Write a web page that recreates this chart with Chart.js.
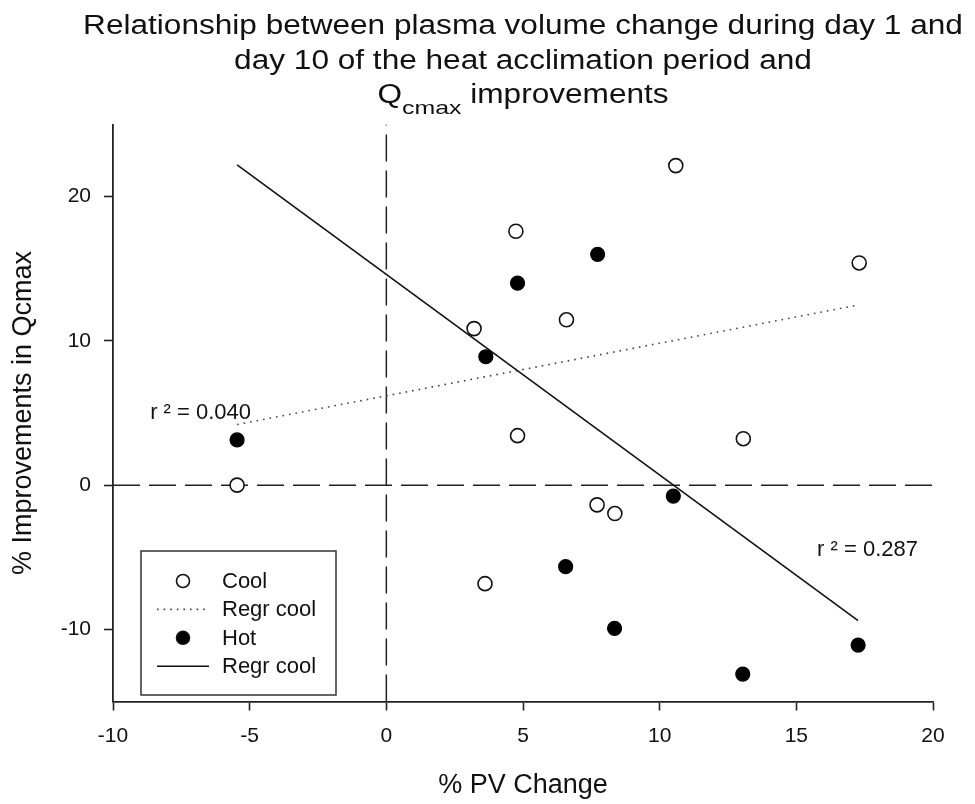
<!DOCTYPE html>
<html>
<head>
<meta charset="utf-8">
<script src="https://cdn.jsdelivr.net/npm/chart.js@4.4.0/dist/chart.umd.min.js"></script>
<style>
  html, body { margin: 0; padding: 0; background: #fff; }
  canvas { display: block; }
</style>
</head>
<body>
<canvas id="chart" width="975" height="804"></canvas>
<script>
// % PV change (x) vs % improvement in Qcmax (y)
const coolX = [10.59, 4.74, 17.30, 3.21, 6.59, 4.80, 13.06, -5.46, 7.71, 8.36, 3.61];
const coolY = [22.15, 17.6, 15.4, 10.85, 11.46, 3.43, 3.22, 0, -1.37, -1.97, -6.83];
const hotX = [7.73, 4.80, 3.64, -5.46, 10.50, 6.56, 8.35, 17.26, 13.04];
const hotY = [16.0, 14.0, 8.9, 3.13, -0.76, -5.65, -9.93, -11.09, -13.1];

// regression line end points
const coolFitX = [-5.46, 17.30];
const coolFitY = [4.2, 12.5];
const hotFitX = [-5.46, 17.26];
const hotFitY = [22.2, -9.4];

const xRange = [-10, 20];
const yRange = [-15, 25];
const xTicks = [-10, -5, 0, 5, 10, 15, 20];
const yTicks = [-10, 0, 10, 20];

const titleLines = [
  'Relationship between plasma volume change during day 1 and',
  'day 10 of the heat acclimation period and'
];
const titleLast = ['Q', 'cmax', ' improvements'];

const legendLabels = ['Cool', 'Regr cool', 'Hot', 'Regr cool'];

const rLabels = ['r \u00b2 = 0.040', 'r \u00b2 = 0.287'];
const rLabelX = [-8.64, 15.76];
const rLabelY = [5.0, -4.5];

const FONT = '"Liberation Sans", Arial, Helvetica, sans-serif';
const INK = '#111';

const pts = (xs, ys) => xs.map((x, i) => ({ x: x, y: ys[i] }));

const titlePlugin = {
  id: 'pageTitle',
  afterDraw(chart) {
    const { ctx, chartArea } = chart;
    const cx = (chartArea.left + chartArea.right) / 2;
    const stretch = 1.17;
    const main = '27px ' + FONT;
    const sub = '19px ' + FONT;
    ctx.save();
    ctx.fillStyle = INK;
    ctx.textBaseline = 'alphabetic';
    ctx.font = main;
    ctx.textAlign = 'center';
    titleLines.forEach((t, i) => {
      ctx.save();
      ctx.translate(cx, 34 + i * 34.5);
      ctx.scale(stretch, 1);
      ctx.fillText(t, 0, 0);
      ctx.restore();
    });
    // last line: Q with subscript "cmax"
    ctx.textAlign = 'left';
    const wQ = ctx.measureText(titleLast[0]).width;
    const wRest = ctx.measureText(titleLast[2]).width;
    ctx.font = sub;
    const wSub = ctx.measureText(titleLast[1]).width * 1.12;
    const total = (wQ + wSub + wRest) * stretch;
    ctx.translate(cx - total / 2, 103);
    ctx.scale(stretch, 1);
    ctx.font = main;
    ctx.fillText(titleLast[0], 0, 0);
    ctx.save();
    ctx.translate(wQ, 11);
    ctx.scale(1.12, 1);
    ctx.font = sub;
    ctx.fillText(titleLast[1], 0, 0);
    ctx.restore();
    ctx.font = main;
    ctx.fillText(titleLast[2], wQ + wSub, 0);
    ctx.restore();
  }
};

const notePlugin = {
  id: 'rNotes',
  afterDatasetsDraw(chart) {
    const { ctx, scales } = chart;
    ctx.save();
    ctx.fillStyle = INK;
    ctx.font = '22px ' + FONT;
    ctx.textAlign = 'left';
    ctx.textBaseline = 'middle';
    rLabels.forEach((t, i) => {
      ctx.fillText(t, scales.x.getPixelForValue(rLabelX[i]), scales.y.getPixelForValue(rLabelY[i]));
    });
    ctx.restore();
  }
};

const legendPlugin = {
  id: 'boxLegend',
  afterDraw(chart) {
    const { ctx, chartArea } = chart;
    const bx = chartArea.left + 28, by = 551, bw = 195, bh = 144;
    ctx.save();
    ctx.fillStyle = '#fff';
    ctx.fillRect(bx, by, bw, bh);
    ctx.strokeStyle = '#333';
    ctx.lineWidth = 1.5;
    ctx.strokeRect(bx, by, bw, bh);
    const symX = bx + 42, txtX = bx + 81;
    ctx.font = '22px ' + FONT;
    ctx.textBaseline = 'middle';
    ctx.fillStyle = INK;
    legendLabels.forEach((t, i) => {
      const yy = by + 30 + i * 28.4;
      ctx.save();
      if (i === 0 || i === 2) {
        ctx.beginPath();
        ctx.arc(symX, yy, 6.5, 0, Math.PI * 2);
        ctx.fillStyle = i === 0 ? '#fff' : '#000';
        ctx.fill();
        ctx.strokeStyle = INK;
        ctx.lineWidth = 1.6;
        ctx.stroke();
      } else {
        ctx.beginPath();
        ctx.moveTo(symX - 26, yy);
        ctx.lineTo(symX + 26, yy);
        ctx.strokeStyle = i === 1 ? '#444' : INK;
        ctx.lineWidth = 1.6;
        ctx.setLineDash(i === 1 ? [1.6, 5] : []);
        ctx.stroke();
      }
      ctx.restore();
      ctx.fillText(t, txtX, yy + 1);
    });
    ctx.restore();
  }
};

const tickFont = { family: FONT, size: 21 };

new Chart(document.getElementById('chart'), {
  type: 'scatter',
  data: {
    datasets: [
      {
        label: 'Cool',
        data: pts(coolX, coolY),
        pointRadius: 7,
        pointBackgroundColor: '#fff',
        pointBorderColor: INK,
        pointBorderWidth: 1.6,
        order: 0
      },
      {
        label: 'Hot',
        data: pts(hotX, hotY),
        pointRadius: 7,
        pointBackgroundColor: '#000',
        pointBorderColor: '#000',
        pointBorderWidth: 1.2,
        order: 0
      },
      {
        label: 'Regr cool',
        data: pts(coolFitX, coolFitY),
        showLine: true,
        pointRadius: 0,
        borderColor: '#444',
        borderWidth: 1.6,
        borderDash: [1.6, 5],
        order: 1
      },
      {
        label: 'Regr hot',
        data: pts(hotFitX, hotFitY),
        showLine: true,
        pointRadius: 0,
        borderColor: INK,
        borderWidth: 1.6,
        order: 1
      },
      {
        label: 'x = 0',
        data: [{ x: 0, y: yRange[0] }, { x: 0, y: yRange[1] }],
        showLine: true,
        pointRadius: 0,
        borderColor: '#222',
        borderWidth: 1.5,
        borderDash: [27, 9],
        order: 2
      },
      {
        label: 'y = 0',
        data: [{ x: xRange[0], y: 0 }, { x: xRange[1], y: 0 }],
        showLine: true,
        pointRadius: 0,
        borderColor: '#222',
        borderWidth: 1.5,
        borderDash: [27, 9],
        order: 2
      }
    ]
  },
  options: {
    responsive: false,
    animation: false,
    devicePixelRatio: 1,
    layout: { padding: { top: 124.5, right: 42, bottom: 0, left: 0 } },
    plugins: {
      legend: { display: false },
      title: { display: false },
      tooltip: { enabled: false }
    },
    scales: {
      x: {
        type: 'linear',
        min: xRange[0],
        max: xRange[1],
        afterBuildTicks: (scale) => { scale.ticks = xTicks.map(v => ({ value: v })); },
        afterFit: (scale) => { scale.height = 102.5; },
        ticks: { font: tickFont, color: INK, padding: 13, autoSkip: false, maxRotation: 0 },
        grid: { drawOnChartArea: false, drawTicks: true, tickLength: 9, tickWidth: 1.6, tickColor: '#222' },
        border: { display: true, color: '#222', width: 1.8 },
        title: { display: true, text: '% PV Change', color: INK, font: { family: FONT, size: 27 }, padding: { top: 0, bottom: 2 } }
      },
      y: {
        type: 'linear',
        min: yRange[0],
        max: yRange[1],
        afterBuildTicks: (scale) => { scale.ticks = yTicks.map(v => ({ value: v })); },
        afterFit: (scale) => { scale.width = 113; },
        ticks: { font: tickFont, color: INK, padding: 13 },
        grid: { drawOnChartArea: false, drawTicks: true, tickLength: 9, tickWidth: 1.6, tickColor: '#222' },
        border: { display: true, color: '#222', width: 1.8 },
        title: { display: true, text: '% Improvements in Qcmax', color: INK, font: { family: FONT, size: 27 }, padding: { top: 7, bottom: 0 } }
      }
    }
  },
  plugins: [titlePlugin, notePlugin, legendPlugin]
});
</script>
</body>
</html>
